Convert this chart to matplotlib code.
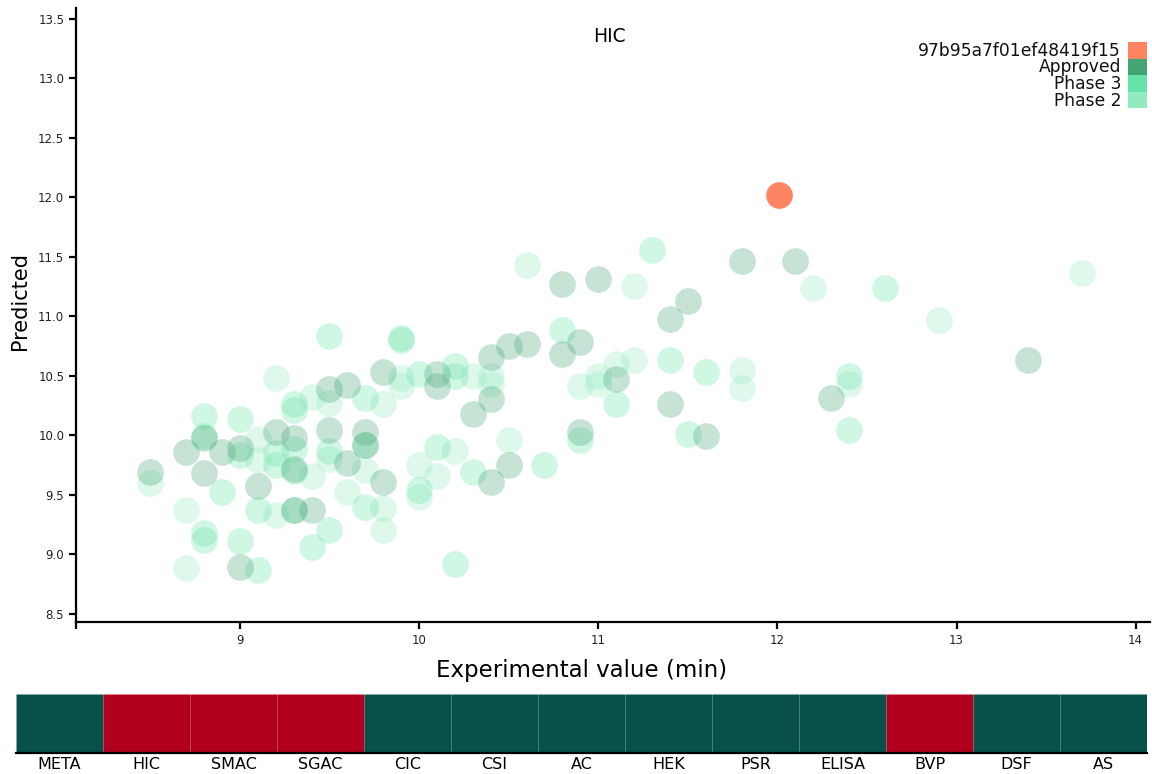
import matplotlib
matplotlib.use("Agg")
import matplotlib.pyplot as plt
from matplotlib.patches import Rectangle
import numpy as np

plt.rcParams['font.family'] = ['DejaVu Sans']

# ---- data ----
title = "HIC"
highlight_name = "97b95a7f01ef48419f15"
highlight_x = [12.01]
highlight_y = [12.02]

approved_x = [8.5, 8.7, 8.8, 8.8, 8.9, 9.0, 9.0, 9.1, 9.2, 9.3, 9.3, 9.3, 9.4, 9.5, 9.5,
              9.6, 9.6, 9.7, 9.7, 9.8, 9.8, 10.1, 10.1, 10.3, 10.4, 10.4, 10.4, 10.5, 10.5,
              10.6, 10.8, 10.8, 10.9, 10.9, 11.0, 11.1, 11.4, 11.4, 11.5, 11.6, 11.8, 12.1,
              12.3, 13.4]
approved_y = [9.69, 9.86, 9.98, 9.68, 9.86, 9.89, 8.89, 9.57, 10.03, 9.98, 9.72, 9.37, 9.37, 10.39, 10.04,
              10.42, 9.77, 10.03, 9.92, 10.53, 9.61, 10.51, 10.41, 10.18, 10.66, 10.30, 9.61, 10.75, 9.75,
              10.77, 11.27, 10.68, 10.78, 10.03, 11.31, 10.47, 10.98, 10.26, 11.13, 9.99, 11.46, 11.46,
              10.31, 10.63]

phase3_x = [8.8, 8.8, 8.8, 8.8, 8.9, 9.0, 9.0, 9.0, 9.1, 9.1, 9.2, 9.2, 9.3, 9.3, 9.3, 9.3, 9.3,
            9.4, 9.5, 9.5, 9.5, 9.7, 9.7, 9.7, 9.9, 9.9, 10.0, 10.0, 10.1, 10.2, 10.2, 10.2,
            10.3, 10.7, 10.8, 10.9, 11.1, 11.3, 11.4, 11.5, 11.6, 12.4, 12.4, 12.6]
phase3_y = [10.16, 9.99, 9.18, 9.12, 9.52, 10.14, 9.83, 9.11, 9.37, 8.87, 9.85, 9.75, 10.26, 10.21, 9.88, 9.70, 9.37,
            9.06, 10.83, 9.87, 9.20, 10.31, 9.92, 9.40, 10.82, 10.80, 10.51, 9.54, 9.90, 10.58, 10.50, 8.92,
            9.69, 9.75, 10.88, 9.96, 10.26, 11.56, 10.63, 10.01, 10.53, 10.50, 10.04, 11.24]

phase2_x = [8.5, 8.7, 8.7, 9.1, 9.1, 9.2, 9.2, 9.4, 9.4, 9.5, 9.5, 9.6, 9.7, 9.8, 9.8, 9.8,
            9.9, 9.9, 10.0, 10.0, 10.1, 10.2, 10.3, 10.4, 10.4, 10.5, 10.6, 10.9, 11.0, 11.0,
            11.1, 11.2, 11.2, 11.8, 11.8, 12.2, 12.4, 12.9, 13.7]
phase2_y = [9.60, 9.37, 8.88, 9.97, 9.79, 10.48, 9.33, 10.32, 9.66, 10.27, 9.80, 9.52, 9.71, 10.26, 9.39, 9.20,
            10.41, 10.48, 9.75, 9.48, 9.66, 9.87, 10.50, 10.50, 10.43, 9.96, 11.43, 10.41, 10.50, 10.43,
            10.60, 11.25, 10.63, 10.55, 10.40, 11.24, 10.43, 10.97, 11.36]

legend_labels = [highlight_name, "Approved", "Phase 3", "Phase 2"]
legend_colors = ["#FF8461", "#44A574", "#66E3A6", "#92EBC0"]

assays = ["META", "HIC", "SMAC", "SGAC", "CIC", "CSI", "AC", "HEK", "PSR", "ELISA", "BVP", "DSF", "AS"]
assay_flag = [0, 1, 1, 1, 0, 0, 0, 0, 0, 0, 1, 0, 0]
flag_colors = {0: "#07514A", 1: "#B1001E"}

x_label = "Experimental value (min)"
y_label = "Predicted"
xlim = (8.085, 14.08)
ylim = (8.43, 13.59)

# ---- figure ----
W, H = 1152, 774
fig = plt.figure(figsize=(W / 100, H / 100), dpi=100)

ax = fig.add_axes([76 / W, 1 - 622 / H, (1150 - 76) / W, (622 - 8) / H])
ms = 370
ax.scatter(phase2_x, phase2_y, s=ms, color=legend_colors[3], alpha=0.3, linewidths=0, zorder=2)
ax.scatter(phase3_x, phase3_y, s=ms, color=legend_colors[2], alpha=0.3, linewidths=0, zorder=3)
ax.scatter(approved_x, approved_y, s=ms, color=legend_colors[1], alpha=0.3, linewidths=0, zorder=4)
ax.scatter(highlight_x, highlight_y, s=ms, color=legend_colors[0], alpha=1.0, linewidths=0, zorder=5)

ax.set_xlim(*xlim)
ax.set_ylim(*ylim)
ax.set_xticks([xlim[0], 9, 10, 11, 12, 13, 14])
ax.set_xticklabels(["", "9", "10", "11", "12", "13", "14"])
ax.set_yticks(np.arange(8.5, 13.51, 0.5))
ax.set_yticklabels([f"{v:.1f}" for v in np.arange(8.5, 13.51, 0.5)])
for s in ["top", "right"]:
    ax.spines[s].set_visible(False)
for s in ["left", "bottom"]:
    ax.spines[s].set_linewidth(1.6)
ax.tick_params(axis="both", labelsize=8.5, width=1.6, length=5, color="black", labelcolor="#222222")

fig.text(582 / W, 1 - 670 / H, x_label, ha="center", va="center", fontsize=16.5)
fig.text(20 / W, 1 - 301 / H, y_label, ha="center", va="center", rotation=90, fontsize=15)

fig.text(609 / W, 1 - 36 / H, title, ha="center", va="center", fontsize=13.5)

# legend (custom, right-aligned text with stacked colour blocks)
trans = fig.transFigure
row_h = 16.6
top = 42
for i, (lab, col) in enumerate(zip(legend_labels, legend_colors)):
    y0 = top + i * row_h
    fig.patches.append(Rectangle((1128 / W, 1 - (y0 + row_h) / H), 19 / W, row_h / H,
                                 transform=trans, facecolor=col, edgecolor="none"))
    fig.text(1121 / W, 1 - (y0 + row_h / 2 + 0.5) / H, lab, ha="right", va="center",
             fontsize=12.3, color="#111111")

# ---- assay strip ----
hx = fig.add_axes([16 / W, 1 - 753 / H, (1147 - 16) / W, (753 - 694) / H])
idx = np.arange(len(assays))
hx.bar(idx, np.ones(len(assays)), width=1.0, color=[flag_colors[f] for f in assay_flag],
       edgecolor=[(1, 1, 1, 0.025)] * len(assays), linewidth=0.8)
hx.set_xlim(-0.5, len(assays) - 0.5)
hx.set_ylim(0, 1)
hx.set_yticks([])
hx.set_xticks(idx)
hx.set_xticklabels(assays, fontsize=11.5)
hx.tick_params(axis="x", length=0, pad=3)
for s in ["top", "right", "left"]:
    hx.spines[s].set_visible(False)
hx.spines["bottom"].set_linewidth(1.6)

fig.savefig("out.png", dpi=100)
